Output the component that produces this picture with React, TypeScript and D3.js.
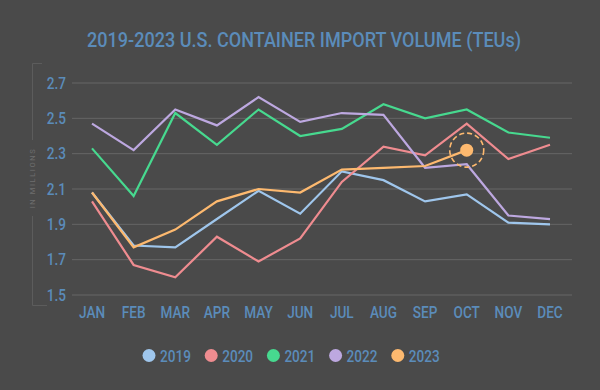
import React, { useEffect, useRef } from 'react';
import * as d3 from 'd3';

const months = ['JAN', 'FEB', 'MAR', 'APR', 'MAY', 'JUN', 'JUL', 'AUG', 'SEP', 'OCT', 'NOV', 'DEC'];
const yTicks = [1.5, 1.7, 1.9, 2.1, 2.3, 2.5, 2.7];

const v2019 = [2.08, 1.78, 1.77, 1.93, 2.09, 1.96, 2.20, 2.15, 2.03, 2.07, 1.91, 1.90];
const v2020 = [2.03, 1.67, 1.60, 1.83, 1.69, 1.82, 2.14, 2.34, 2.29, 2.47, 2.27, 2.35];
const v2021 = [2.33, 2.06, 2.53, 2.35, 2.55, 2.40, 2.44, 2.58, 2.50, 2.55, 2.42, 2.39];
const v2022 = [2.47, 2.32, 2.55, 2.46, 2.62, 2.48, 2.53, 2.52, 2.22, 2.24, 1.95, 1.93];
const v2023 = [2.08, 1.77, 1.87, 2.03, 2.10, 2.08, 2.21, 2.22, 2.23, 2.32];

const series = [
  { name: '2019', values: v2019, color: '#9fc6ec' },
  { name: '2020', values: v2020, color: '#ef8c90' },
  { name: '2021', values: v2021, color: '#47d98f' },
  { name: '2022', values: v2022, color: '#bda8e0' },
  { name: '2023', values: v2023, color: '#fdb96f' },
];

const W = 600;
const H = 390;
const textBlue = '#5b8cba';
const cond = 'Roboto, sans-serif';

export default function App() {
  const svgRef = useRef<SVGSVGElement>(null);

  useEffect(() => {
    if (!svgRef.current) return;
    const svg = d3.select(svgRef.current);
    svg.selectAll('*').remove();

    svg.append('rect').attr('width', W).attr('height', H).attr('fill', '#4a4a4a');

    const x = d3.scalePoint<string>().domain(months).range([92, 550]);
    const y = d3.scaleLinear().domain([1.5, 2.7]).range([295, 83]);

    // title
    svg.append('text')
      .attr('x', 304).attr('y', 47)
      .attr('text-anchor', 'middle')
      .attr('font-family', cond)
      .attr('font-weight', 500)
      .attr('font-size', 21)
      .attr('textLength', 434)
      .attr('lengthAdjust', 'spacingAndGlyphs')
      .attr('fill', textBlue)
      .text('2019-2023 U.S. CONTAINER IMPORT VOLUME (TEUs)');

    // gridlines
    svg.append('g').selectAll('line')
      .data(yTicks)
      .enter().append('line')
      .attr('x1', 72).attr('x2', 572)
      .attr('y1', d => y(d)).attr('y2', d => y(d))
      .attr('stroke', '#666')
      .attr('stroke-width', 1);

    // y labels
    svg.append('g').selectAll('text')
      .data(yTicks)
      .enter().append('text')
      .attr('transform', d => `translate(66,${y(d) + 5.5}) scale(0.85,1)`)
      .attr('text-anchor', 'end')
      .attr('font-family', cond)
      .attr('font-weight', 500)
      .attr('font-size', 16)
      .attr('fill', textBlue)
      .text(d => d.toFixed(1));

    // bracket
    const br = svg.append('g').attr('stroke', '#5c5c5c').attr('fill', 'none').attr('stroke-width', 1);
    br.append('path').attr('d', 'M42,63.5 H32.5 V140');
    br.append('path').attr('d', 'M32.5,216 V305.5 H47');
    svg.append('text')
      .attr('transform', 'translate(35,178) rotate(-90)')
      .attr('text-anchor', 'middle')
      .attr('font-family', cond)
      .attr('font-size', 7.5)
      .attr('letter-spacing', 1.6)
      .attr('fill', '#6e6e6e')
      .text('IN MILLIONS');

    // x labels
    svg.append('g').selectAll('text')
      .data(months)
      .enter().append('text')
      .attr('transform', d => `translate(${x(d)},318) scale(0.85,1)`)
      .attr('text-anchor', 'middle')
      .attr('font-family', cond)
      .attr('font-weight', 500)
      .attr('font-size', 16)
      .attr('fill', textBlue)
      .text(d => d);

    const line = d3.line<number>()
      .x((_, i) => x(months[i]) as number)
      .y(d => y(d));

    series.forEach(s => {
      svg.append('path')
        .datum(s.values)
        .attr('fill', 'none')
        .attr('stroke', s.color)
        .attr('stroke-width', 2.2)
        .attr('stroke-linejoin', 'miter')
        .attr('d', line);
    });

    // highlight last 2023 point
    const last = v2023.length - 1;
    const cx = x(months[last]) as number;
    const cy = y(v2023[last]);
    svg.append('circle').attr('cx', cx).attr('cy', cy).attr('r', 17)
      .attr('fill', 'none').attr('stroke', '#fdb96f').attr('stroke-width', 1.6)
      .attr('stroke-dasharray', '5,3');
    svg.append('circle').attr('cx', cx).attr('cy', cy).attr('r', 6.5).attr('fill', '#fdb96f');

    // legend
    const lg = svg.append('g').selectAll('g')
      .data(series)
      .enter().append('g')
      .attr('transform', (_, i) => `translate(${149 + i * 62.2},355.5)`);
    lg.append('circle').attr('r', 6.5).attr('fill', d => d.color);
    lg.append('text')
      .attr('transform', 'translate(11,6) scale(0.85,1)')
      .attr('font-family', cond)
      .attr('font-weight', 500)
      .attr('font-size', 16)
      .attr('fill', textBlue)
      .text(d => d.name);
  }, []);

  return (
    <svg ref={svgRef} width={W} height={H} style={{ position: 'absolute', left: 0, top: 0, display: 'block' }} />
  );
}
